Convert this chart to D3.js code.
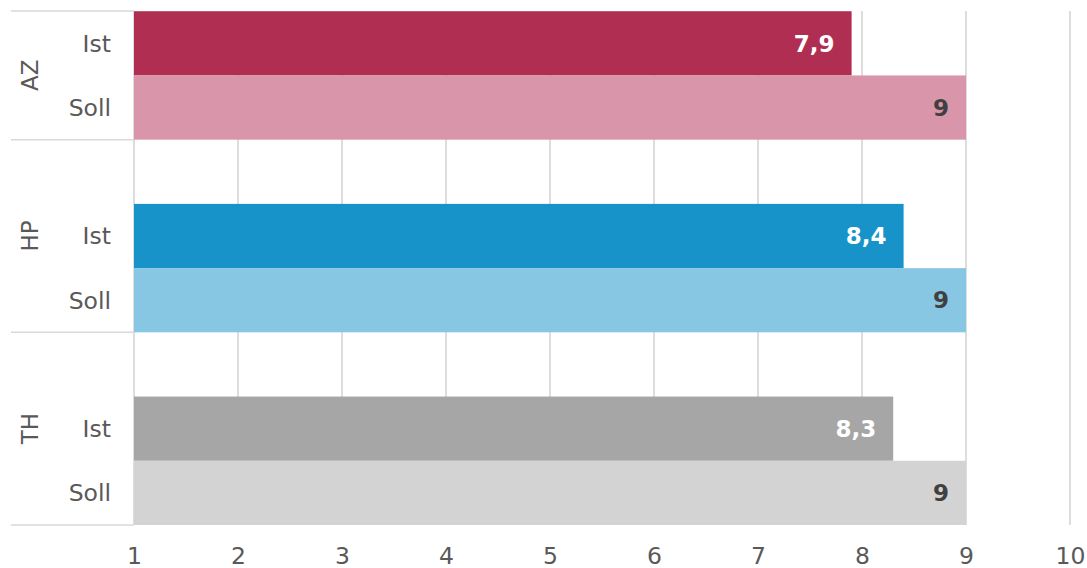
<!DOCTYPE html>
<html>
<head>
<meta charset="utf-8">
<script src="https://cdn.jsdelivr.net/npm/d3@7"></script>
<style>
  body { margin: 0; background: #fff; }
  text { font-family: Verdana, "DejaVu Sans", sans-serif; }
</style>
</head>
<body>
<svg></svg>
<script>
var groups = ["AZ", "HP", "TH"];
var rows = ["Ist", "Soll"];
var istValues = [7.9, 8.4, 8.3];
var sollValues = [9, 9, 9];
var xTicks = [1, 2, 3, 4, 5, 6, 7, 8, 9, 10];

var colors = {
    AZ: {Ist: "#b02e51", Soll: "#d995a9"},
    HP: {Ist: "#1793ca", Soll: "#88c7e4"},
    TH: {Ist: "#a6a6a6", Soll: "#d3d3d3"}
};

var screen = {width: 1087, height: 568};
var plot = {left: 134, right: 1070, top: 11, bottom: 525};

var svg = d3.select("svg")
    .attr("width", screen.width)
    .attr("height", screen.height);

var data = [];
groups.forEach(function(g, i){
    data.push({group: g, row: "Ist", value: istValues[i]});
    data.push({group: g, row: "Soll", value: sollValues[i]});
});

var xScale = d3.scaleLinear().domain([1, 10]).range([plot.left, plot.right]);

// the top group is cut off by the plot edge, so its band starts above it
var groupH = 192.67;
var yGroup = d3.scaleBand().domain(groups)
    .range([plot.bottom - groups.length * groupH, plot.bottom]);
var yRow = d3.scaleBand().domain(["gap"].concat(rows)).range([0, yGroup.bandwidth()]);

svg.append("defs").append("clipPath").attr("id", "clip")
    .append("rect")
    .attr("x", 0).attr("y", plot.top)
    .attr("width", screen.width).attr("height", plot.bottom - plot.top);

// vertical grid
svg.append("g").selectAll("line")
    .data(xTicks)
    .enter()
    .append("line")
    .attr("x1", function(d){ return xScale(d); })
    .attr("x2", function(d){ return xScale(d); })
    .attr("y1", plot.top)
    .attr("y2", plot.bottom)
    .attr("stroke", "#d9d9d9")
    .attr("stroke-width", 1.75);

// group separators on the left
var seps = [plot.top].concat(groups.map(function(g){ return yGroup(g) + yGroup.bandwidth(); }));
svg.append("g").selectAll("line")
    .data(seps)
    .enter()
    .append("line")
    .attr("x1", 11)
    .attr("x2", plot.left)
    .attr("y1", function(d){ return d; })
    .attr("y2", function(d){ return d; })
    .attr("stroke", "#d9d9d9")
    .attr("stroke-width", 1.5);

var bars = svg.append("g").attr("clip-path", "url(#clip)");

bars.selectAll("rect")
    .data(data)
    .enter()
    .append("rect")
    .attr("x", xScale(1))
    .attr("y", function(d){ return yGroup(d.group) + yRow(d.row); })
    .attr("width", function(d){ return xScale(d.value) - xScale(1); })
    .attr("height", yRow.bandwidth())
    .attr("fill", function(d){ return colors[d.group][d.row]; });

// value labels
svg.append("g").selectAll("text")
    .data(data)
    .enter()
    .append("text")
    .attr("x", function(d){ return xScale(d.value) - 17; })
    .attr("y", function(d){ return yGroup(d.group) + yRow(d.row) + yRow.bandwidth() / 2; })
    .attr("dy", "0.36em")
    .attr("text-anchor", "end")
    .attr("font-size", 23)
    .attr("font-weight", "bold")
    .attr("fill", function(d){ return d.row == "Ist" ? "#ffffff" : "#404040"; })
    .text(function(d){ return String(d.value).replace(".", ","); });

// row labels
svg.append("g").selectAll("text")
    .data(data)
    .enter()
    .append("text")
    .attr("x", 111)
    .attr("y", function(d){ return yGroup(d.group) + yRow(d.row) + yRow.bandwidth() / 2; })
    .attr("dy", "0.36em")
    .attr("text-anchor", "end")
    .attr("font-size", 23.5)
    .attr("fill", "#595959")
    .text(function(d){ return d.row; });

// group labels, centred on the visible part of each band
svg.append("g").selectAll("text")
    .data(groups)
    .enter()
    .append("text")
    .attr("transform", function(g){
        var top = Math.max(yGroup(g), plot.top);
        var cy = (top + yGroup(g) + yGroup.bandwidth()) / 2;
        return "translate(30," + cy + ") rotate(-90)";
    })
    .attr("dy", "0.36em")
    .attr("text-anchor", "middle")
    .attr("font-size", 23)
    .attr("fill", "#595959")
    .text(function(g){ return g; });

// x axis labels
var xAxis = d3.axisBottom(xScale).tickValues(xTicks).tickSize(0).tickPadding(0);
var ax = svg.append("g")
    .attr("transform", "translate(0," + plot.bottom + ")")
    .call(xAxis);
ax.select(".domain").remove();
ax.selectAll("text")
    .attr("y", 31)
    .attr("dy", "0.36em")
    .attr("font-size", 23.5)
    .attr("font-family", "Verdana, 'DejaVu Sans', sans-serif")
    .attr("fill", "#595959");
</script>
</body>
</html>
